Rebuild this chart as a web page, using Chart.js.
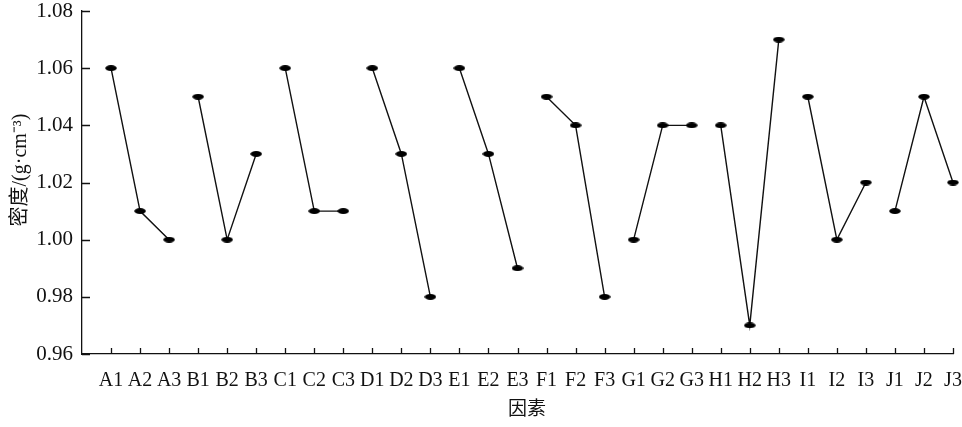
<!DOCTYPE html>
<html>
<head>
<meta charset="utf-8">
<script src="https://cdn.jsdelivr.net/npm/chart.js@4"></script>
<style>
  html, body { margin: 0; padding: 0; background: #fff; }
  #wrap { width: 962px; height: 427px; }
</style>
</head>
<body>
<div id="wrap"><canvas id="chart" width="962" height="427"></canvas></div>
<script>
// Category slots: one empty slot before A1, then three levels per factor
const xLabels = ['',
  'A1', 'A2', 'A3', 'B1', 'B2', 'B3', 'C1', 'C2', 'C3', 'D1', 'D2', 'D3',
  'E1', 'E2', 'E3', 'F1', 'F2', 'F3', 'G1', 'G2', 'G3', 'H1', 'H2', 'H3',
  'I1', 'I2', 'I3', 'J1', 'J2', 'J3'];

const factors = ['A', 'B', 'C', 'D', 'E', 'F', 'G', 'H', 'I', 'J'];

// Mean density per level (g/cm3)
const factorA = [1.06, 1.01, 1.00];
const factorB = [1.05, 1.00, 1.03];
const factorC = [1.06, 1.01, 1.01];
const factorD = [1.06, 1.03, 0.98];
const factorE = [1.06, 1.03, 0.99];
const factorF = [1.05, 1.04, 0.98];
const factorG = [1.00, 1.04, 1.04];
const factorH = [1.04, 0.97, 1.07];
const factorI = [1.05, 1.00, 1.02];
const factorJ = [1.01, 1.05, 1.02];
const groupValues = [factorA, factorB, factorC, factorD, factorE, factorF, factorG, factorH, factorI, factorJ];

const yMin = 0.96, yMax = 1.08, yStep = 0.02;

const INK = '#111';
const SERIF = "'Liberation Serif', 'Times New Roman', 'Noto Sans CJK SC', serif";

// flat black ellipse marker
const marker = document.createElement('canvas');
marker.width = 12; marker.height = 6;
(() => {
  const m = marker.getContext('2d');
  m.fillStyle = '#000';
  m.beginPath();
  m.ellipse(6, 3, 5.8, 2.9, 0, 0, Math.PI * 2);
  m.fill();
})();

const datasets = factors.map((f, i) => ({
  label: f,
  data: groupValues[i].map((v, k) => ({ x: f + (k + 1), y: v })),
  borderColor: INK,
  borderWidth: 1.4,
  pointStyle: marker,
  pointRadius: 5,
  fill: false,
  tension: 0,
}));

// ticks pointing into the plot, like the printed figure
const inwardTicks = {
  id: 'inwardTicks',
  afterDraw(chart) {
    const { ctx, chartArea, scales: { x, y } } = chart;
    ctx.save();
    ctx.strokeStyle = INK;
    ctx.lineWidth = 1.3;
    ctx.beginPath();
    y.ticks.forEach((t, i) => {
      const py = Math.round(y.getPixelForTick(i)) + 0.5;
      ctx.moveTo(chartArea.left, py);
      ctx.lineTo(chartArea.left + 8, py);
    });
    x.ticks.forEach((t, i) => {
      if (i === 0) return;
      const px = Math.round(x.getPixelForTick(i)) + 0.5;
      ctx.moveTo(px, chartArea.bottom);
      ctx.lineTo(px, chartArea.bottom - 6);
    });
    ctx.stroke();
    ctx.restore();
  }
};

new Chart(document.getElementById('chart'), {
  type: 'line',
  data: { labels: xLabels, datasets },
  plugins: [inwardTicks],
  options: {
    responsive: false,
    animation: false,
    layout: { padding: { top: 11, right: 9, left: 0, bottom: 0 } },
    plugins: { legend: { display: false }, tooltip: { enabled: false } },
    scales: {
      x: {
        type: 'category',
        offset: false,
        grid: { display: true, drawOnChartArea: false, drawTicks: false },
        border: { display: true, color: INK, width: 1.3 },
        ticks: {
          autoSkip: false, maxRotation: 0, padding: 15,
          color: INK, font: { family: SERIF, size: 20 }
        },
        title: {
          display: true, text: '\u3000因素', color: INK,
          font: { family: SERIF, size: 19 },
          padding: { top: 0, bottom: 6 }
        },
        afterFit(s) { s.height = 73; s.paddingLeft = 0; s.paddingRight = 0; }
      },
      y: {
        min: yMin, max: yMax,
        grid: { display: true, drawOnChartArea: false, drawTicks: false },
        border: { display: true, color: INK, width: 1.3 },
        ticks: {
          stepSize: yStep, padding: 9, color: INK,
          font: { family: SERIF, size: 21 },
          callback: v => v.toFixed(2)
        },
        title: {
          display: true, text: '\u3000 密度/(g·cm⁻³)', color: INK,
          font: { family: SERIF, size: 20 },
          padding: { top: 9, bottom: 0 }
        },
        afterFit(s) { s.width = 82; s.paddingTop = 0; s.paddingBottom = 0; }
      }
    }
  }
});
</script>
</body>
</html>
